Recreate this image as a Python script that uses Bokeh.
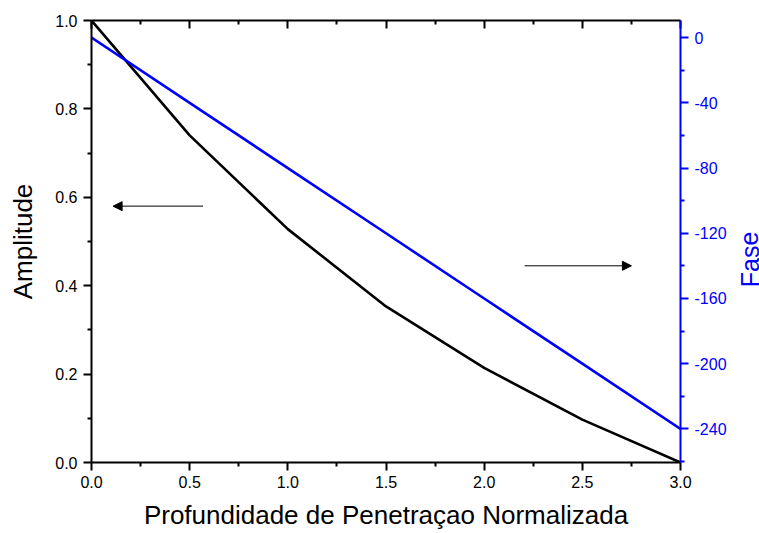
from bokeh.plotting import figure
from bokeh.layouts import row
from bokeh.models import (Range1d, LinearAxis, FixedTicker, PrintfTickFormatter,
                          Arrow, NormalHead, Label)
from bokeh.embed import file_html
from bokeh.resources import INLINE

# Normalized penetration depth
depth = [0.0, 0.5, 1.0, 1.5, 2.0, 2.5, 3.0]
# Amplitude (left axis)
amplitude = [1.0, 0.74, 0.528, 0.353, 0.214, 0.097, 0.0]
# Phase in degrees (right axis)
phase = [0, -40, -80, -120, -160, -200, -240]

x_ticks = [0.0, 0.5, 1.0, 1.5, 2.0, 2.5, 3.0]
x_minor = [0.25, 0.75, 1.25, 1.75, 2.25, 2.75]
amp_ticks = [0.0, 0.2, 0.4, 0.6, 0.8, 1.0]
amp_minor = [0.1, 0.3, 0.5, 0.7, 0.9]
phase_ticks = [0, -40, -80, -120, -160, -200, -240]
phase_minor = [-20, -60, -100, -140, -180, -220, -260]

FONT = "Liberation Sans"
BLUE = "#0000FF"
TOTAL_H = 533
STRIP_W = 25   # narrow strip on the right holding the phase-axis title

p = figure(frame_width=589, frame_height=442,
           min_border_left=91, min_border_right=79 - STRIP_W,
           min_border_top=20, min_border_bottom=71,
           x_range=Range1d(0, 3), y_range=Range1d(0, 1),
           output_backend="svg", toolbar_location=None,
           x_axis_type=None, y_axis_type=None)
p.extra_y_ranges = {"phase": Range1d(-260.6, 10.5)}
p.grid.visible = False
p.outline_line_color = None
p.background_fill_color = "white"
p.border_fill_color = "white"


def style_axis(ax, color, tick_in, tick_out, minor_in, minor_out):
    ax.axis_line_color = color
    ax.axis_line_width = 2
    ax.major_tick_line_color = color
    ax.major_tick_line_width = 2
    ax.minor_tick_line_color = color
    ax.minor_tick_line_width = 2
    ax.major_tick_in = tick_in
    ax.major_tick_out = tick_out
    ax.minor_tick_in = minor_in
    ax.minor_tick_out = minor_out
    ax.major_label_text_color = color
    ax.major_label_text_font = FONT
    ax.major_label_text_font_size = "16px"
    ax.axis_label_text_color = color
    ax.axis_label_text_font = FONT
    ax.axis_label_text_font_size = "26px"
    ax.axis_label_text_font_style = "normal"


# bottom axis
xb = LinearAxis(ticker=FixedTicker(ticks=x_ticks, minor_ticks=x_minor),
                formatter=PrintfTickFormatter(format="%.1f"),
                axis_label="Profundidade de Penetraçao Normalizada")
style_axis(xb, "black", 0, 8, 0, 4)
xb.major_label_standoff = 5
xb.axis_label_standoff = 9
p.add_layout(xb, "below")

# top axis: ticks only, pointing inward
xt = LinearAxis(ticker=FixedTicker(ticks=x_ticks, minor_ticks=x_minor))
style_axis(xt, "black", 8, 0, 4, 0)
xt.major_label_overrides = {t: "" for t in x_ticks}
xt.major_label_standoff = 0
p.add_layout(xt, "above")

# left axis: amplitude
yl = LinearAxis(ticker=FixedTicker(ticks=amp_ticks, minor_ticks=amp_minor),
                formatter=PrintfTickFormatter(format="%.1f"),
                axis_label="Amplitude")
style_axis(yl, "black", 0, 8, 0, 4)
yl.major_label_standoff = 6
yl.axis_label_standoff = 14
p.add_layout(yl, "left")

# right axis: phase
yr = LinearAxis(y_range_name="phase",
                ticker=FixedTicker(ticks=phase_ticks, minor_ticks=phase_minor),
                formatter=PrintfTickFormatter(format="%d"))
style_axis(yr, BLUE, 0, 8, 0, 4)
yr.major_label_standoff = 6
p.add_layout(yr, "right")

# curves
p.line(depth, amplitude, line_color="black", line_width=2.6)
p.line(depth, phase, y_range_name="phase", line_color=BLUE, line_width=2.6)

# arrows pointing to each curve's axis
p.add_layout(Arrow(end=NormalHead(size=9, fill_color="black", line_color="black"),
                   x_start=0.568, y_start=0.58, x_end=0.11, y_end=0.58,
                   line_color="black", line_width=1))
p.add_layout(Arrow(end=NormalHead(size=9, fill_color="black", line_color="black"),
                   x_start=2.206, y_start=0.445, x_end=2.75, y_end=0.445,
                   line_color="black", line_width=1))

# strip with the phase-axis title, read from bottom to top
strip = figure(width=STRIP_W, height=TOTAL_H,
               min_border_left=0, min_border_right=0,
               min_border_top=0, min_border_bottom=0,
               x_range=Range1d(0, STRIP_W), y_range=Range1d(0, TOTAL_H),
               output_backend="svg", toolbar_location=None,
               x_axis_type=None, y_axis_type=None)
strip.grid.visible = False
strip.outline_line_color = None
strip.background_fill_color = "white"
strip.border_fill_color = "white"
strip.add_layout(Label(x=15, y=259, x_units="canvas", y_units="canvas",
                       text="Fase", angle=1.5708,
                       text_align="center", text_baseline="middle",
                       text_color=BLUE, text_font=FONT, text_font_size="25px"))

layout = row(p, strip, spacing=0)
open("out.html", "w").write(file_html(layout, INLINE))
